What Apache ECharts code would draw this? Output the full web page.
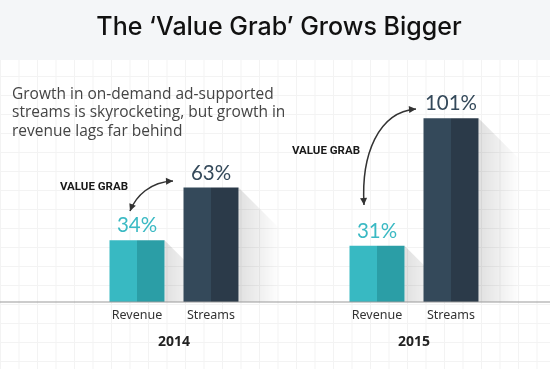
<!DOCTYPE html>
<html>
<head>
<meta charset="utf-8">
<script src="https://cdn.jsdelivr.net/npm/echarts@6/dist/echarts.min.js"></script>
<style>
  html, body { margin: 0; padding: 0; background: #fff; }
  #chart {
    width: 550px; height: 369px;
    background-color: #fff;
    background-image: linear-gradient(#f3f3f3 1px, transparent 1px), linear-gradient(90deg, #f3f3f3 1px, transparent 1px);
    background-size: 18.5px 19px;
  }
</style>
</head>
<body>
<div id="chart"></div>
<script>
// ---- data ----
const years = ['2014', '2015'];
const groupNames = ['Revenue', 'Streams'];
const revenue = [34, 31];
const streams = [63, 101];
const titleText = 'The \u2018Value Grab\u2019 Grows Bigger';
const subtitleLines = ['Growth in on-demand ad-supported', 'streams is skyrocketing, but growth in', 'revenue lags far behind'];
const annotationText = 'VALUE GRAB';

// ---- styling ----
const BAR_W = 55, BAR_GAP = 19;
const OFFSET = (BAR_W + BAR_GAP) / 2;
function twoTone(c1, c2) {
  return { type: 'linear', x: 0, y: 0, x2: 1, y2: 0, colorStops: [
    { offset: 0, color: c1 }, { offset: 0.5, color: c1 }, { offset: 0.5, color: c2 }, { offset: 1, color: c2 }
  ]};
}
const tealFill = twoTone('#38b9c2', '#2b9ea6');
const darkFill = twoTone('#34495a', '#2b3a49');

function shadowRenderer(offset, name) {
  return function (params, api) {
    const top = api.coord([api.value(0), api.value(1)]);
    const base = api.coord([api.value(0), 0]);
    const cx = top[0] + offset;
    const xr = cx + BAR_W / 2;
    const L = 42;
    const h = base[1] - top[1];
    const d = Math.min(L, h);
    return {
      type: 'group',
      children: [
        {
          type: 'polygon',
          shape: { points: [[xr, top[1]], [xr + L, top[1] + d], [xr + L, base[1]], [xr, base[1]]] },
          style: { fill: { type: 'linear', x: 0, y: 0, x2: 1, y2: 0, colorStops: [
            { offset: 0, color: 'rgba(0,0,0,0.12)' }, { offset: 1, color: 'rgba(0,0,0,0)' }] } }
        },
        {
          type: 'text',
          style: { text: name, x: cx, y: base[1] + 13, align: 'center', verticalAlign: 'middle',
            fill: '#333', font: '12.5px "Noto Sans"' }
        }
      ]
    };
  };
}

function arrowHead(tip, from, size) {
  const dx = tip[0] - from[0], dy = tip[1] - from[1];
  const len = Math.sqrt(dx * dx + dy * dy);
  const ux = dx / len, uy = dy / len;
  const nx = -uy, ny = ux;
  return {
    type: 'polygon',
    shape: { points: [tip, [tip[0] - ux * size + nx * size * 0.5, tip[1] - uy * size + ny * size * 0.5],
      [tip[0] - ux * size - nx * size * 0.5, tip[1] - uy * size - ny * size * 0.5]] },
    style: { fill: '#333' }, z: 10
  };
}
function curvedArrow(p1, c1, c2, p2) {
  return [
    { type: 'bezierCurve', shape: { x1: p1[0], y1: p1[1], cpx1: c1[0], cpy1: c1[1], cpx2: c2[0], cpy2: c2[1], x2: p2[0], y2: p2[1] },
      style: { stroke: '#333', lineWidth: 1.5, fill: null }, z: 10 },
    arrowHead(p1, c1, 7),
    arrowHead(p2, c2, 7)
  ];
}

const chart = echarts.init(document.getElementById('chart'));
const option = {
  animation: false,
  backgroundColor: 'transparent',
  grid: { left: 54, width: 480, top: 102, bottom: 67 },
  xAxis: {
    type: 'category', data: years,
    axisLine: { show: false }, axisTick: { show: false },
    axisLabel: { margin: 33, fontSize: 14, fontWeight: 'bold', color: '#222', fontFamily: 'Noto Sans' }
  },
  yAxis: { type: 'value', min: 0, max: 110, show: false, splitLine: { show: false } },
  series: [
    { type: 'custom', name: 'shadowRev', renderItem: shadowRenderer(-OFFSET, groupNames[0]),
      data: years.map((y, i) => [i, revenue[i]]), z: 1, silent: true },
    { type: 'custom', name: 'shadowStr', renderItem: shadowRenderer(OFFSET, groupNames[1]),
      data: years.map((y, i) => [i, streams[i]]), z: 1, silent: true },
    { type: 'bar', name: groupNames[0], data: revenue, barWidth: BAR_W, barGap: (BAR_GAP / BAR_W * 100) + '%', z: 3,
      itemStyle: { color: tealFill },
      label: { show: true, position: 'top', distance: 4, formatter: '{c}%', color: '#3ab9c3', fontSize: 20.5, fontFamily: 'Lato' } },
    { type: 'bar', name: groupNames[1], data: streams, barWidth: BAR_W, z: 3,
      itemStyle: { color: darkFill },
      label: { show: true, position: 'top', distance: 4, formatter: '{c}%', color: '#34495a', fontSize: 20.5, fontFamily: 'Lato' } }
  ],
  graphic: [
    { type: 'rect', shape: { x: 0, y: 0, width: 550, height: 60 }, style: { fill: '#f4f6f8' }, z: 0 },
    { type: 'text', style: { text: titleText, x: 279, y: 27, align: 'center', verticalAlign: 'middle',
        fill: '#111', font: '500 25px Inter' }, z: 5 },
    { type: 'text', style: { text: subtitleLines.join('\n'), x: 12, y: 85, lineHeight: 18.5,
        fill: '#444', font: '15.5px "Open Sans"' }, z: 5 },
    { type: 'text', style: { text: annotationText, x: 60, y: 187, verticalAlign: 'middle',
        fill: '#1a1a1a', font: 'bold 11.5px Roboto' }, z: 5 },
    { type: 'text', style: { text: annotationText, x: 292, y: 151, verticalAlign: 'middle',
        fill: '#1a1a1a', font: 'bold 11.5px Roboto' }, z: 5 },
    { type: 'line', shape: { x1: 0, y1: 302, x2: 550, y2: 302 }, style: { stroke: '#9a9a9a', lineWidth: 1.2 }, z: 5 }
  ].concat(curvedArrow([130, 211], [136, 196], [150, 182], [173, 181]))
   .concat(curvedArrow([364, 205], [361, 155], [378, 112], [416, 109]))
};
chart.setOption(option);
</script>
</body>
</html>
